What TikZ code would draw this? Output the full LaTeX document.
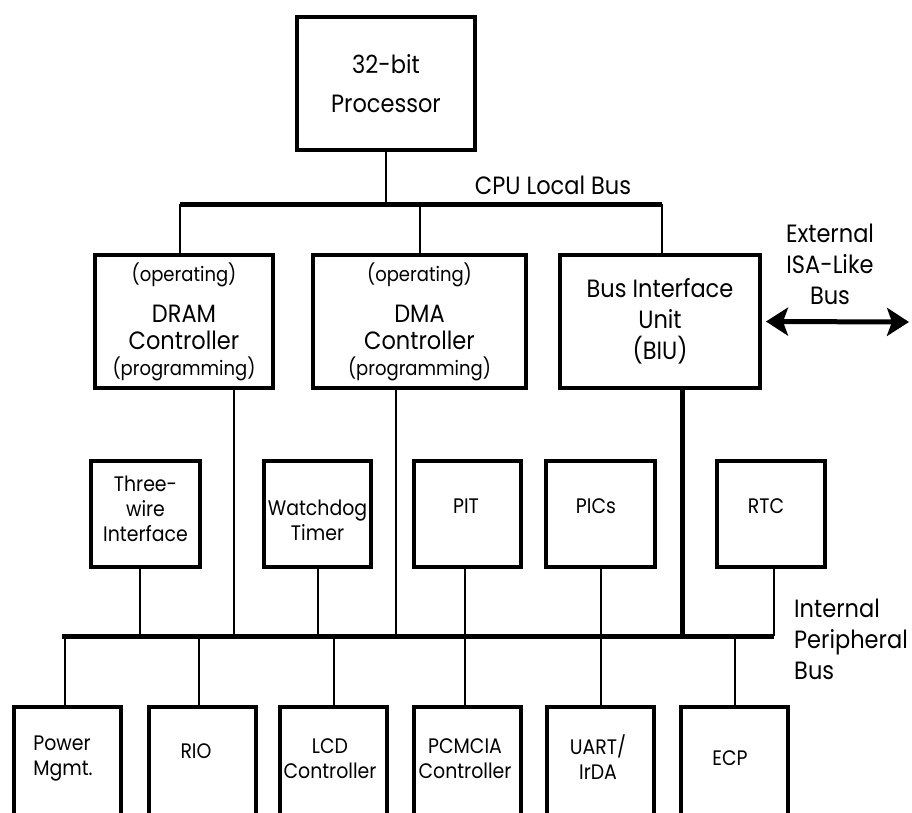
\documentclass[tikz,border=0pt]{standalone}
\usepackage{fontspec}
\setmainfont{Poppins}[FakeStretch=0.9]
\usetikzlibrary{arrows.meta}
\newcommand\fbig{\fontsize{25}{31}\selectfont}
\newcommand\fmid{\fontsize{20}{23}\selectfont}
\newcommand\fsml{\fontsize{21}{25}\selectfont}
\begin{document}
\begin{tikzpicture}[x=1pt,y=-1pt,
  box/.style={draw, line width=4pt, inner sep=0pt, align=center, font=\fbig, minimum height=133pt},
  mbox/.style={draw, line width=4pt, inner sep=0pt, minimum width=108pt, minimum height=106pt},
  bbox/.style={draw=none, inner sep=0pt, minimum width=107pt, minimum height=200pt, anchor=north},
  frame/.style={line width=4pt},
  stext/.style={inner sep=0pt, align=center, font=\fsml},
  wire/.style={line width=2pt},
  bus/.style={line width=5pt},
  lbl/.style={inner sep=0pt, font=\fbig, align=center},
  dtip/.style={{Stealth[length=22pt,width=28pt,inset=5pt]}-{Stealth[length=22pt,width=28pt,inset=5pt]}}
]
\useasboundingbox (0,0) rectangle (912,813);
\clip (0,0) rectangle (912,813);

% top boxes
\node[box, minimum width=178pt] (proc) at (386,83.5) {32-bit\\[8pt]Processor};
\node[box, minimum width=178pt] (dram) at (184,321.5)
  {{\fmid (operating)}\\[10.5pt]DRAM\\[-4pt]Controller\\[-5.5pt]{\fmid (programming)}};
\node[box, minimum width=213pt] (dma) at (419.5,321.5)
  {{\fmid (operating)}\\[10.5pt]DMA\\[-4pt]Controller\\[-5.5pt]{\fmid (programming)}};
\node[box, minimum width=200pt] (biu) at (660,321.5) {Bus Interface\\Unit\\(BIU)};

% middle boxes
\node[mbox, minimum width=109pt, label={[stext,yshift=5pt]center:{Three-\\wire\\Interface}}] (three) at (145.5,514) {};
\node[mbox, minimum width=107pt, label={[stext,yshift=-6.5pt]center:{Watchdog\\Timer}}] (watch) at (317.5,514) {};
\node[mbox, minimum width=107pt, label={[stext,xshift=-1.5pt,yshift=8pt]center:PIT}] (pit) at (467.5,514) {};
\node[mbox, minimum width=109pt, label={[stext,xshift=-4.5pt,yshift=8pt]center:PICs}] (pics) at (600.5,514) {};
\node[mbox, minimum width=108pt, label={[stext,xshift=-5pt,yshift=8pt]center:RTC}] (rtc) at (771,514) {};

% bottom boxes (cut by the lower edge)
\node[bbox] (power) at (67.5,707) {};
\node[bbox] (rio) at (202.5,707) {};
\node[bbox] (lcd) at (333.5,707) {};
\node[bbox] (pcmcia) at (467.5,707) {};
\node[bbox] (uart) at (600.5,707) {};
\node[bbox] (ecp) at (734.5,707) {};
\foreach \n in {power,rio,lcd,pcmcia,uart,ecp}
  \draw[frame] (\n.south west) -- (\n.north west) -- (\n.north east) -- (\n.south east);
\node[stext, align=left] (powerT) at (63,758.5) {Power\\Mgmt.};
\node[stext] (rioT) at (196,751) {RIO};
\node[stext] (lcdT) at (330,758.5) {LCD\\Controller};
\node[stext] (pcmT) at (465,758.5) {PCMCIA\\Controller};
\node[stext] (uartT) at (598,757.5) {UART/\\IrDA};
\node[stext] (ecpT) at (730,758) {ECP};

% CPU local bus
\coordinate (cpuL) at (180,204);
\coordinate (cpuR) at (662,204);
\draw[bus] (cpuL) -- (cpuR);
\draw[wire] (proc.south) -- (proc.south |- cpuL);
\draw[wire] (cpuL) -- (cpuL |- dram.north);
\draw[wire] (dma.north) -- (dma.north |- cpuL);
\draw[wire] (cpuR) -- (cpuR |- biu.north);
\node[lbl] (cpubus) at (553,185) {CPU Local Bus};

% external bus
\coordinate (extR) at (909,322);
\draw[line width=5pt, dtip] ([xshift=4pt]biu.east) -- (extR);
\node[lbl] (ext) at (830,264.5) {External\\ISA-Like\\Bus};

% internal peripheral bus
\coordinate (ibL) at (62,636);
\coordinate (ibR) at (774,636);
\draw[bus] (ibL) -- (ibR);
\draw[wire] ([xshift=50pt]dram.south) -- ([xshift=50pt]dram.south |- ibL);
\draw[wire] ([xshift=-23.5pt]dma.south) -- ([xshift=-23.5pt]dma.south |- ibL);
\draw[bus] ([xshift=22pt]biu.south) -- ([xshift=22pt]biu.south |- ibL);
\draw[wire] ([xshift=-5.5pt]three.south) -- ([xshift=-5.5pt]three.south |- ibL);
\draw[wire] (watch.south) -- (watch.south |- ibL);
\draw[wire] ([xshift=-2.5pt]pit.south) -- ([xshift=-2.5pt]pit.south |- ibL);
\draw[wire] (pics.south) -- (pics.south |- ibL);
\draw[wire] (ibR) -- (ibR |- rtc.south);
\draw[wire] ([xshift=-2.5pt]power.north) -- ([xshift=-2.5pt]power.north |- ibL);
\draw[wire] ([xshift=-3.5pt]rio.north) -- ([xshift=-3.5pt]rio.north |- ibL);
\draw[wire] (lcd.north) -- (lcd.north |- ibL);
\draw[wire] ([xshift=-2.5pt]pcmcia.north) -- ([xshift=-2.5pt]pcmcia.north |- ibL);
\draw[wire] (uart.north) -- (uart.north |- ibL);
\draw[wire] (ecp.north) -- (ecp.north |- ibL);
\node[lbl, anchor=north west, align=left] (ibus) at (794,599) {Internal\\Peripheral\\Bus};
\end{tikzpicture}
\end{document}
